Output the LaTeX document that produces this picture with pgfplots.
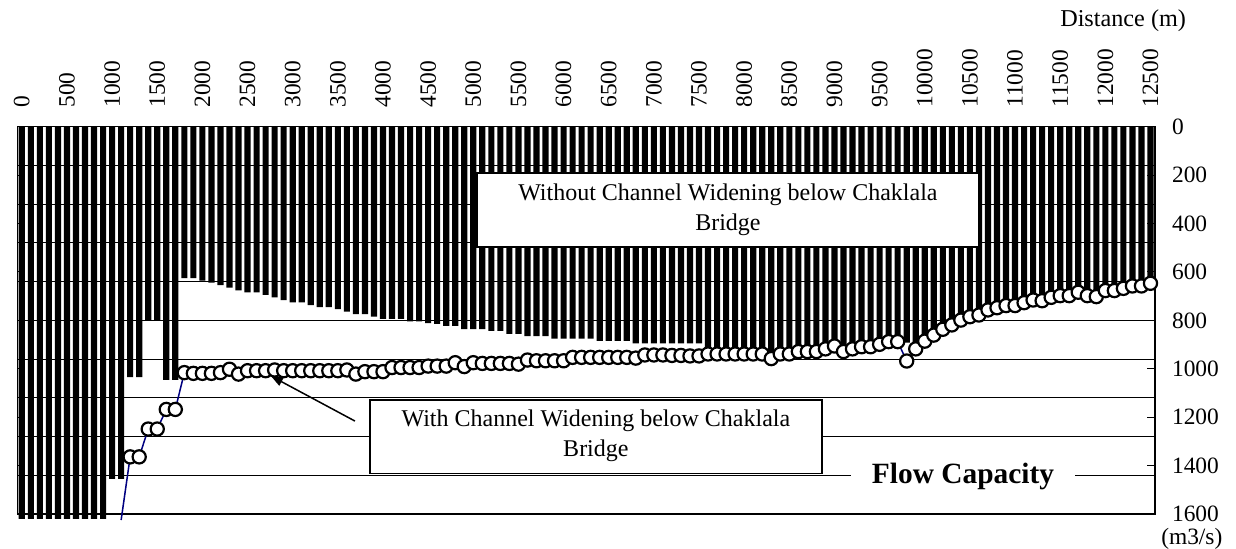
\documentclass[border=0pt]{standalone}
\usepackage{fontspec}
\setmainfont{Liberation Serif}
\usepackage{pgfplots}
\pgfplotsset{compat=1.18}
\usepackage{pgfplotstable}
\usetikzlibrary{arrows.meta}
\definecolor{navyline}{RGB}{0,0,128}

\pgfplotstableread{
x y
0 1620
100 1620
200 1620
300 1620
400 1620
500 1620
600 1620
700 1620
800 1620
900 1620
1000 1455
1100 1455
1200 1035
1300 1035
1400 801
1500 801
1600 1046
1700 1046
1800 626
1900 626
2000 636
2100 644
2200 655
2300 665
2400 676
2500 684
2600 684
2700 695
2800 705
2900 716
3000 726
3100 726
3200 737
3300 745
3400 745
3500 754
3600 764
3700 774
3800 774
3900 785
4000 794
4100 794
4200 794
4300 804
4400 804
4500 812
4600 815
4700 823
4800 823
4900 836
5000 836
5100 836
5200 844
5300 844
5400 856
5500 856
5600 865
5700 865
5800 865
5900 876
6000 876
6100 876
6200 876
6300 876
6400 885
6500 885
6600 885
6700 885
6800 895
6900 895
7000 895
7100 895
7200 895
7300 895
7400 895
7500 895
7600 939
7700 939
7800 939
7900 939
8000 939
8100 939
8200 939
8300 945
8400 939
8500 939
8600 929
8700 929
8800 929
8900 918
9000 906
9100 929
9200 918
9300 909
9400 909
9500 899
9600 888
9700 888
9800 892
9900 918
10000 886
10100 861
10200 837
10300 819
10400 799
10500 785
10600 778
10700 757
10800 748
10900 739
11000 739
11100 727
11200 716
11300 719
11400 705
11500 698
11600 698
11700 684
11800 698
11900 702
12000 677
12100 677
12200 668
12300 658
12400 658
12500 647
}\barsdata

\pgfplotstableread{
x y
1200 1364
1300 1364
1400 1249
1500 1249
1600 1168
1700 1168
1800 1016
1900 1019
2000 1019
2100 1019
2200 1016
2300 1002
2400 1022
2500 1008
2600 1008
2700 1008
2800 1005
2900 1008
3000 1008
3100 1008
3200 1008
3300 1008
3400 1008
3500 1008
3600 1005
3700 1022
3800 1012
3900 1012
4000 1012
4100 995
4200 995
4300 995
4400 995
4500 989
4600 989
4700 989
4800 975
4900 991
5000 975
5100 978
5200 978
5300 978
5400 978
5500 981
5600 964
5700 967
5800 967
5900 967
6000 967
6100 953
6200 953
6300 953
6400 953
6500 953
6600 953
6700 953
6800 956
6900 943
7000 943
7100 943
7200 945
7300 945
7400 947
7500 947
7600 939
7700 939
7800 939
7900 939
8000 939
8100 939
8200 939
8300 958
8400 939
8500 939
8600 929
8700 929
8800 929
8900 918
9000 906
9100 929
9200 918
9300 909
9400 909
9500 899
9600 888
9700 888
9800 968
9900 918
10000 886
10100 861
10200 837
10300 819
10400 799
10500 785
10600 778
10700 757
10800 748
10900 739
11000 739
11100 727
11200 716
11300 719
11400 705
11500 698
11600 698
11700 684
11800 698
11900 702
12000 677
12100 677
12200 668
12300 658
12400 658
12500 647
}\withdata

\begin{document}
\begin{tikzpicture}
\begin{axis}[
  scale only axis, width=568.85pt, height=193.65pt,
  xmin=-50, xmax=12550, ymin=0, ymax=1600, y dir=reverse,
  clip=false,
  scaled x ticks=false, scaled y ticks=false,
  axis line style={line width=0.6pt},
  /pgf/number format/1000 sep={},
  /pgf/number format/assume math mode=true,
  tick label style={font=\fontsize{11.7}{14}\selectfont},
  xtick={0,500,...,12500},
  xticklabel pos=right,
  xticklabel style={rotate=90, anchor=west},
  xticklabel shift=6pt,
  xtick style={draw=none},
  ytick={0,200,...,1600},
  yticklabel pos=right,
  yticklabel style={anchor=west, inner ysep=0pt},
  yticklabel shift=5pt,
  ytick style={black, line width=0.5pt},
  tick align=inside,
  major tick length=4pt,
  extra y ticks={160,320,480,640,800,960,1120,1280,1440},
  extra y tick labels={},
  extra y tick style={grid=major, major tick length=0pt},
  major grid style={black, line width=0.5pt},
]
\addplot[ybar, bar width=68, bar shift=0pt, fill=black, draw=none] table[x=x,y=y]{\barsdata};
\addplot[navyline, line width=0.75pt, mark=none] coordinates {(1100,1625) (1200,1364)};
\addplot[navyline, line width=0.75pt, mark=*, mark size=3.3pt,
  mark options={fill=white, draw=black, line width=1.1pt, solid}] table[x=x,y=y]{\withdata};

\draw[fill=white, line width=0.8pt] (axis cs:5040,192) rectangle (axis cs:10600,496);
\node[align=center, font=\fontsize{12}{15}\selectfont] at (axis cs:7820,345) {Without Channel Widening below Chaklala\\Bridge};

\draw[fill=white, line width=0.8pt] (axis cs:3855,1129) rectangle (axis cs:8861,1432);
\node[align=center, font=\fontsize{12}{15}\selectfont] at (axis cs:6358,1278) {With Channel Widening below Chaklala\\Bridge};

\draw[line width=0.75pt, -{Triangle[length=6pt,width=4.5pt]}] (axis cs:3689,1216) -- (axis cs:2759,1030);

\node[fill=white, inner xsep=10.5pt, inner ysep=3pt, font=\bfseries\fontsize{14.7}{17}\selectfont] at (axis cs:10424,1443) {Flow Capacity};

\node[anchor=east, xshift=19pt, yshift=52.85pt, font=\fontsize{12.1}{14}\selectfont] at (axis cs:12550,0) {Distance (m)};
\node[anchor=north, inner sep=0pt, xshift=18.4pt, yshift=-6.8pt, font=\fontsize{11.7}{14}\selectfont] at (axis cs:12550,1600) {(m3/s)};

\coordinate (TL) at (axis cs:-50,0);
\coordinate (BR) at (axis cs:12550,1600);
\end{axis}
\pgfresetboundingbox
\path ([shift={(-8.65pt,63.35pt)}]TL) rectangle ([shift={(40.5pt,-17.5pt)}]BR);
\end{tikzpicture}
\end{document}
